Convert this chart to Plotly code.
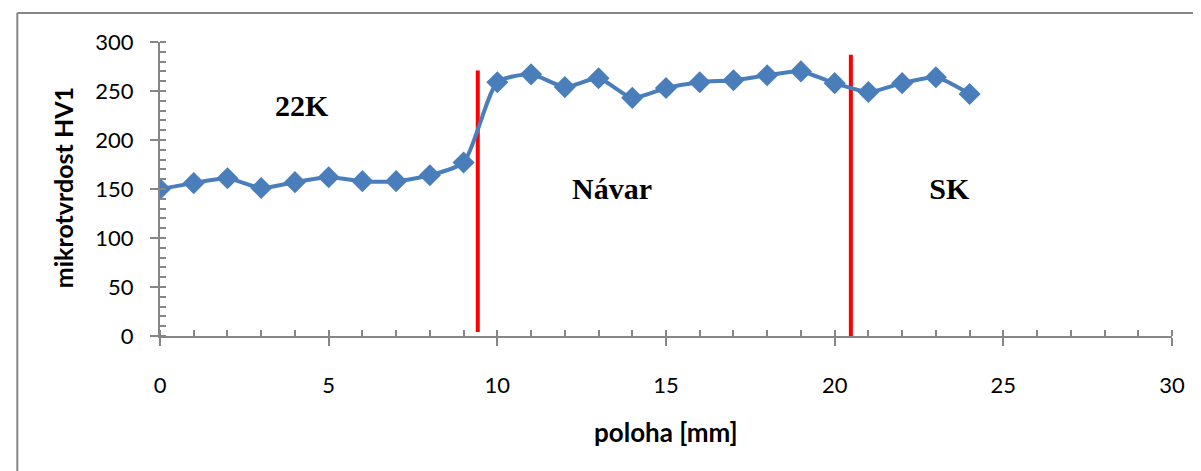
import plotly.graph_objects as go

# Data
poloha = list(range(0, 25))
hv1 = [150, 156, 161, 151, 157, 162, 158, 158, 164, 177,
       259, 267, 254, 263, 243, 253, 259, 261, 266, 270,
       258, 249, 258, 264, 247]

# Zone boundaries (red vertical lines)
boundary_x = [9.42, 20.48]
boundary_top = [271, 287]
boundary_bottom = [4, 0]

# Zone labels
zone_names = ["22K", "Návar", "SK"]
zone_x = [4.2, 13.4, 23.4]
zone_y = [232, 147, 147]

x_ticks = [0, 5, 10, 15, 20, 25, 30]
y_ticks = [0, 50, 100, 150, 200, 250, 300]

BLUE = "#4A7EBB"
GRAY = "#868686"
SANS = "Lato, Carlito, Calibri, sans-serif"
TICKFONT = dict(family=SANS, size=22, color="black")

fig = go.Figure()

for bx, bt, bb in zip(boundary_x, boundary_top, boundary_bottom):
    fig.add_trace(go.Scatter(x=[bx, bx], y=[bb, bt], mode="lines",
                             line=dict(color="#FF0000", width=4),
                             showlegend=False, hoverinfo="skip"))

fig.add_trace(go.Scatter(
    x=poloha, y=hv1, mode="lines+markers",
    line=dict(color=BLUE, width=4, shape="spline", smoothing=0.6),
    marker=dict(symbol="diamond", size=17, color=BLUE),
    showlegend=False))

fig.add_trace(go.Scatter(
    x=zone_x, y=zone_y, mode="text", text=["<b>%s</b>" % n for n in zone_names],
    textfont=dict(family="Liberation Serif, Times New Roman, serif", size=30, color="black"),
    textposition="middle center", showlegend=False, hoverinfo="skip"))

axis_common = dict(
    showline=True, linecolor=GRAY, linewidth=2,
    showgrid=False, zeroline=False,
    ticks="outside", ticklen=8, tickwidth=2, tickcolor=GRAY,
    tickfont=TICKFONT,
)

fig.update_xaxes(range=[0, 30], tickvals=x_ticks, ticktext=[str(v) for v in x_ticks],
                 ticklabelstandoff=21,
                 minor=dict(ticks="inside", dtick=1, ticklen=6, tickwidth=1.5, tickcolor=GRAY),
                 **axis_common)
fig.update_yaxes(range=[0, 300], tickvals=y_ticks, ticktext=[str(v) for v in y_ticks],
                 ticklabelstandoff=12,
                 minor=dict(ticks="inside", dtick=10, ticklen=6, tickwidth=1.5, tickcolor=GRAY),
                 **axis_common)

fig.add_annotation(text="<b>poloha [mm]</b>", xref="paper", yref="paper",
                   x=0.5, y=-0.3265, xanchor="center", yanchor="middle", showarrow=False,
                   font=dict(family=SANS, size=26, color="black"))
fig.add_annotation(text="<b>mikrotvrdost HV1</b>", xref="paper", yref="paper",
                   x=-0.0958, y=0.503, xanchor="center", yanchor="middle",
                   textangle=-90, showarrow=False,
                   font=dict(family=SANS, size=25, color="black"))

# chart area border (left and top edges visible)
fig.add_shape(type="line", xref="paper", yref="paper", x0=-0.141, x1=1.06, y0=1.0986, y1=1.0986,
              line=dict(color=GRAY, width=2))
fig.add_shape(type="line", xref="paper", yref="paper", x0=-0.141, x1=-0.141, y0=1.0986, y1=-0.5,
              line=dict(color=GRAY, width=2))

fig.update_layout(
    width=1201, height=471,
    margin=dict(l=152, r=37, t=34, b=143),
    plot_bgcolor="white", paper_bgcolor="white",
    showlegend=False,
)

fig.write_html("out.html")
